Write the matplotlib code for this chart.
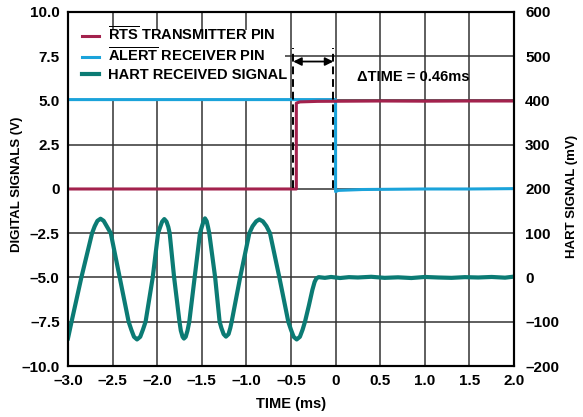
import matplotlib
matplotlib.use("Agg")
import matplotlib.pyplot as plt
from matplotlib.patches import Rectangle

plt.rcParams['font.family'] = ['Liberation Sans', 'DejaVu Sans']
plt.rcParams['font.weight'] = 'bold'
plt.rcParams['mathtext.fontset'] = 'custom'
plt.rcParams['mathtext.rm'] = 'Liberation Sans:bold'
plt.rcParams['mathtext.bf'] = 'Liberation Sans:bold'

# RTS transmitter pin (V)
rts_t = [-3.0, -0.44, -0.44, -0.40, -0.2, 0.5, 1.0, 1.5, 2.0]
rts_v = [0.0, 0.0, 4.85, 4.92, 4.95, 4.97, 4.96, 4.97, 4.97]

# ALERT receiver pin (V)
alert_t = [-3.0, -2.0, -1.0, -0.5, 0.0, 0.0, 0.03, 0.3, 1.0, 1.5, 2.0]
alert_v = [5.05, 5.05, 5.05, 5.05, 5.05, -0.15, -0.08, -0.03, 0.0, 0.0, 0.02]

# HART received signal, read on the left scale (V)
hart_t = [-3.00, -2.96, -2.85, -2.73, -2.70, -2.67, -2.635, -2.60, -2.56, -2.52,
          -2.42, -2.32, -2.29, -2.26, -2.226, -2.19, -2.16, -2.13, -2.05, -1.99,
          -1.97, -1.945, -1.92, -1.895, -1.875, -1.86, -1.81, -1.75, -1.735, -1.715,
          -1.70, -1.68, -1.66, -1.64, -1.58, -1.52, -1.50, -1.48, -1.464, -1.445,
          -1.43, -1.416, -1.35, -1.30, -1.28, -1.255, -1.229, -1.20, -1.18, -1.165,
          -1.07, -0.967, -0.93, -0.89, -0.855, -0.815, -0.775, -0.735, -0.63, -0.53,
          -0.50, -0.47, -0.436, -0.40, -0.37, -0.343, -0.30, -0.26, -0.235, -0.215,
          -0.19, -0.12, -0.05, 0.05, 0.15, 0.25, 0.4, 0.55, 0.7, 0.85,
          1.0, 1.15, 1.3, 1.45, 1.6, 1.75, 1.9, 2.0]
hart_v = [-8.44, -7.5, -5.0, -2.5, -2.1, -1.8, -1.68, -1.8, -2.15, -2.5,
          -5.0, -7.5, -7.95, -8.35, -8.5, -8.35, -7.95, -7.5, -5.0, -2.5,
          -2.2, -1.85, -1.7, -1.85, -2.15, -2.5, -5.0, -7.5, -8.0, -8.35,
          -8.45, -8.35, -8.0, -7.5, -5.0, -2.5, -2.15, -1.82, -1.66, -1.82,
          -2.15, -2.5, -5.0, -7.5, -7.85, -8.2, -8.34, -8.2, -7.85, -7.5,
          -5.0, -2.5, -2.1, -1.83, -1.72, -1.83, -2.1, -2.5, -5.0, -7.5,
          -7.95, -8.35, -8.5, -8.35, -7.95, -7.5, -6.6, -5.7, -5.25, -5.05,
          -4.98, -5.02, -4.97, -5.03, -4.98, -5.0, -4.96, -5.02, -4.99, -5.03,
          -4.97, -5.0, -5.02, -4.98, -5.0, -4.97, -5.01, -4.95]

x_ticks = [-3.0, -2.5, -2.0, -1.5, -1.0, -0.5, 0, 0.5, 1.0, 1.5, 2.0]
x_labels = ['\u20133.0', '\u20132.5', '\u20132.0', '\u20131.5', '\u20131.0', '\u20130.5',
            '0', '0.5', '1.0', '1.5', '2.0']
y_ticks = [10, 7.5, 5, 2.5, 0, -2.5, -5, -7.5, -10]
y_labels = ['10.0', '7.5', '5.0', '2.5', '0', '\u20132.5', '\u20135.0', '\u20137.5', '\u201310.0']
r_ticks = [600, 500, 400, 300, 200, 100, 0, -100, -200]
r_labels = ['600', '500', '400', '300', '200', '100', '0', '\u2013100', '\u2013200']

dash_t = [-0.475, -0.025]

RED = '#A3224D'
BLUE = '#1BA3DA'
TEAL = '#0B7B74'

fig = plt.figure(figsize=(5.83, 4.17), dpi=100)
ax = fig.add_axes([0.1166, 0.1223, 0.765, 0.849])

# white patch behind the legend hides the grid there
ax.add_patch(Rectangle((-3.0, 5.0), 2.43, 3.98, facecolor='white', edgecolor='none', zorder=1))

ax.plot(hart_t, hart_v, color=TEAL, lw=3.0, label='HART RECEIVED SIGNAL', zorder=3,
        solid_joinstyle='round')
ax.plot(alert_t, alert_v, color=BLUE, lw=2.2, label=r'$\overline{\mathrm{ALERT}}$ RECEIVER PIN', zorder=4)
ax.plot(rts_t, rts_v, color=RED, lw=2.2, label=r'$\overline{\mathrm{RTS}}$ TRANSMITTER PIN', zorder=5)

ax.set_xlim(-3, 2)
ax.set_ylim(-10, 10)
ax.set_xticks(x_ticks)
ax.set_xticklabels(x_labels)
ax.set_yticks(y_ticks)
ax.set_yticklabels(y_labels)
ax.grid(True, color='#333333', lw=1.1)
ax.set_axisbelow(True)
ax.tick_params(length=0, labelsize=11, pad=6)
for s in ax.spines.values():
    s.set_linewidth(1.5)

ax.set_xlabel('TIME (ms)', fontsize=10.5, fontweight='bold', labelpad=6)
ax.set_ylabel('DIGITAL SIGNALS (V)', fontsize=9.5, fontweight='bold')
ax.yaxis.set_label_coords(-0.101, 0.514)

# delta-time marker
for t in dash_t:
    ax.plot([t, t], [0.05, 7.95], color='black', lw=1.4, ls=(0, (4, 2.5)), zorder=6)
ax.annotate('', xy=(dash_t[1], 7.2), xytext=(dash_t[0], 7.2),
            arrowprops=dict(arrowstyle='<|-|>', color='black', lw=1.3,
                            mutation_scale=12, shrinkA=0, shrinkB=0), zorder=6)
ax.text(0.24, 6.3, '\u0394TIME = 0.46ms', fontsize=10.5, fontweight='bold',
        ha='left', va='center')

h, l = ax.get_legend_handles_labels()
leg = ax.legend(h[::-1], l[::-1], loc='upper left', bbox_to_anchor=(0.0, 1.0),
                frameon=False, fontsize=10.5, handlelength=1.2, handletextpad=0.6,
                labelspacing=0.2, borderaxespad=0.55)

ax2 = ax.twinx()
ax2.set_ylim(-200, 600)
ax2.set_yticks(r_ticks)
ax2.set_yticklabels(r_labels)
ax2.tick_params(length=0, labelsize=11, pad=8)
ax2.set_ylabel('HART SIGNAL (mV)', fontsize=9.5, fontweight='bold')
ax2.yaxis.set_label_coords(1.117, 0.48)
for s in ax2.spines.values():
    s.set_linewidth(1.5)

fig.savefig('out.png', dpi=100)
